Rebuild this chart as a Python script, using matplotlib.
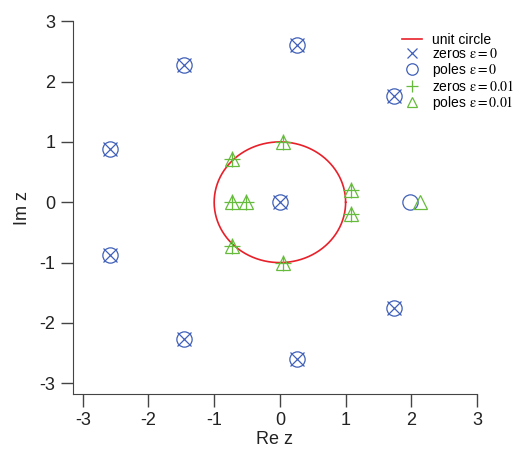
import numpy as np
import matplotlib.pyplot as plt
import matplotlib as mpl

mpl.rcParams['font.family'] = ['Liberation Sans', 'DejaVu Sans']
mpl.rcParams['mathtext.fontset'] = 'stix'
mpl.rcParams['axes.unicode_minus'] = False

# eps = 0
zeros0_re = [0.0, 0.26, -1.46, 1.74, -2.59, -2.59, -1.46, 1.74, 0.26]
zeros0_im = [0.0, 2.60, 2.27, 1.76, 0.88, -0.88, -2.27, -1.76, -2.60]
poles0_re = [0.0, 0.26, -1.46, 1.74, -2.59, -2.59, -1.46, 1.74, 0.26, 1.98]
poles0_im = [0.0, 2.60, 2.27, 1.76, 0.88, -0.88, -2.27, -1.76, -2.60, 0.0]

# eps = 0.01
zeros1_re = [0.05, -0.73, -0.73, -0.52, -0.73, 0.05, 1.08, 1.08]
zeros1_im = [1.00, 0.72, 0.0, 0.0, -0.72, -1.00, 0.20, -0.20]
poles1_re = [0.05, -0.73, -0.73, -0.52, -0.73, 0.05, 1.08, 1.08, 2.13]
poles1_im = [1.00, 0.72, 0.0, 0.0, -0.72, -1.00, 0.20, -0.20, 0.0]

blue = '#4060b8'
green = '#66bb3c'
red = '#e8202a'

fig = plt.figure(figsize=(5.13, 4.51), dpi=100)
ax = fig.add_axes([0.142, 0.126, 0.788, 0.827])

th = np.linspace(0, 2 * np.pi, 400)
ax.plot(np.cos(th), np.sin(th), color=red, lw=1.2, label='unit circle')
ax.plot(zeros0_re, zeros0_im, 'x', color=blue, ms=10.5, mew=0.9, label=r'zeros $\mathrm{ε{=}0}$')
ax.plot(poles0_re, poles0_im, 'o', color=blue, mfc='none', ms=11, mew=0.9, label=r'poles $\mathrm{ε{=}0}$')
ax.plot(zeros1_re, zeros1_im, '+', color=green, ms=11, mew=0.9, label=r'zeros $\mathrm{ε{=}0.01}$')
ax.plot(poles1_re, poles1_im, '^', color=green, mfc='none', ms=9.5, mew=0.9, label=r'poles $\mathrm{ε{=}0.01}$')

ax.set_xlim(-3.15, 3)
ax.set_ylim(-3.18, 3)
ax.set_xticks([-3, -2, -1, 0, 1, 2, 3])
ax.set_yticks([-3, -2, -1, 0, 1, 2, 3])
for s in ['top', 'right']:
    ax.spines[s].set_visible(False)
for s in ['left', 'bottom']:
    ax.spines[s].set_color('#444444')
ax.tick_params(direction='out', length=9, width=1, colors='#444444', labelsize=13, labelcolor='#222222')
ax.set_xlabel('Re z', fontsize=13, color='#222222', labelpad=2)
ax.set_ylabel('Im z', fontsize=13, color='#222222', labelpad=6)

ax.legend(loc='upper left', bbox_to_anchor=(0.784, 0.927), bbox_transform=fig.transFigure,
          frameon=False, fontsize=10, markerscale=0.75, handlelength=1.4,
          handletextpad=0.75, labelspacing=0.0, borderaxespad=0, borderpad=0)

fig.savefig('out.png', dpi=100)
